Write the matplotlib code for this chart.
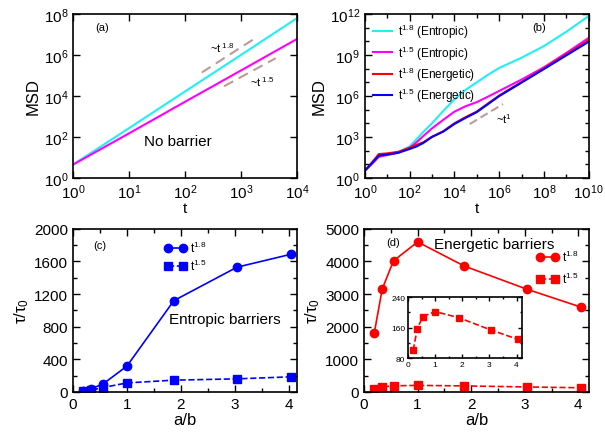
import numpy as np
import matplotlib
matplotlib.use("Agg")
import matplotlib.pyplot as plt
from matplotlib.ticker import LogLocator, MultipleLocator, FixedLocator, NullFormatter

plt.rcParams['font.family'] = ['Liberation Sans', 'DejaVu Sans']
plt.rcParams['mathtext.fontset'] = 'custom'
plt.rcParams['mathtext.rm'] = 'Liberation Sans'
plt.rcParams['mathtext.it'] = 'Liberation Sans:italic'
plt.rcParams['mathtext.default'] = 'regular'

# ---- panel (a): no barrier
t_a = [1, 10, 100, 1000, 10000]
msd_a_18 = [4.5, 270, 1.65e4, 1.0e6, 6.2e7]
msd_a_15 = [4.5, 150, 5.2e3, 1.75e5, 6.0e6]
guide_a18_t = [200, 1900]
guide_a18_y = [1.4e5, 7.3e6]
guide_a15_t = [500, 4200]
guide_a15_y = [3.0e4, 7.0e5]

# ---- panel (b): with barriers (log10 values)
logt_b = [0, 0.3, 0.625, 1.0, 1.5, 2.0, 2.3, 2.6, 3.0, 3.5, 4.0, 4.5, 5.0, 5.5, 6.0, 7.0, 8.0, 9.0, 10.0]
logy_cyan = [0.53, 1.05, 1.6, 1.72, 1.9, 2.3, 2.82, 3.35, 4.0, 4.9, 5.75, 6.45, 7.0, 7.55, 8.05, 8.8, 9.65, 10.7, 11.85]
logy_mag = [0.53, 1.0, 1.55, 1.68, 1.85, 2.2, 2.6, 3.05, 3.63, 4.25, 4.85, 5.25, 5.55, 5.95, 6.37, 7.2, 8.1, 9.15, 10.25]
logy_red = [0.55, 1.1, 1.75, 1.8, 1.92, 2.22, 2.42, 2.6, 3.02, 3.42, 4.0, 4.45, 4.86, 5.45, 6.03, 7.02, 8.02, 9.04, 10.08]
logy_blue = [0.53, 1.05, 1.63, 1.72, 1.85, 2.12, 2.3, 2.55, 3.0, 3.39, 3.95, 4.4, 4.82, 5.4, 5.99, 6.98, 7.97, 8.97, 9.97]
guide_b_t = [10**4.69, 10**6.17]
guide_b_y = [10**3.95, 10**5.41]

# ---- panels (c), (d)
ab = [0.19, 0.34, 0.55, 1.0, 1.87, 3.04, 4.05]
tau_c_18 = [12, 42, 95, 318, 1120, 1530, 1690]
tau_c_15 = [12, 22, 54, 111, 145, 161, 186]
tau_d_18 = [1797, 3160, 4020, 4600, 3860, 3150, 2600]
tau_d_15 = [100, 157, 189, 202, 186, 154, 129]

cyan = '#20F0F4'
mag = '#FF00FF'
red = '#FF0000'
blue = '#0000FF'
guide = '#C09A98'

fig = plt.figure(figsize=(6.05, 4.35), dpi=100)
axa = fig.add_axes([0.1207, 0.5885, 0.370, 0.377])
axb = fig.add_axes([0.603, 0.5885, 0.370, 0.377])
axc = fig.add_axes([0.1207, 0.0966, 0.370, 0.375])
axd = fig.add_axes([0.6017, 0.0966, 0.372, 0.375])
axi = fig.add_axes([0.6744, 0.1747, 0.1884, 0.140])

def style(ax, size=11):
    ax.tick_params(which='both', direction='in', top=True, right=True, labelsize=size)
    ax.tick_params(which='major', length=5, width=1)
    ax.tick_params(which='minor', length=3, width=1)
    for s in ax.spines.values():
        s.set_linewidth(1.2)

# (a)
axa.loglog(t_a, msd_a_18, color=cyan, lw=1.5)
axa.loglog(t_a, msd_a_15, color=mag, lw=1.5)
axa.plot(guide_a18_t, guide_a18_y, color=guide, lw=1.5, ls=(0, (5, 3)))
axa.plot(guide_a15_t, guide_a15_y, color=guide, lw=1.5, ls=(0, (5, 3)))
axa.set_xlim(1, 1e4)
axa.set_ylim(1, 1e8)
axa.xaxis.set_major_locator(LogLocator(base=10, numticks=10))
axa.yaxis.set_major_locator(FixedLocator([1, 1e2, 1e4, 1e6, 1e8]))
axa.xaxis.set_minor_locator(FixedLocator([]))
axa.yaxis.set_minor_locator(FixedLocator([]))
style(axa)
axa.set_xlabel('t', fontsize=11, labelpad=0)
axa.set_ylabel('MSD', fontsize=12, labelpad=2)
axa.text(0.1, 0.9, '(a)', transform=axa.transAxes, fontsize=8)
axa.text(0.61, 0.77, r'~t$^{\ 1.8}$', transform=axa.transAxes, fontsize=8)
axa.text(0.79, 0.56, r'~t$^{\ 1.5}$', transform=axa.transAxes, fontsize=8)
axa.text(0.47, 0.20, 'No barrier', transform=axa.transAxes, fontsize=11, ha='center')

# (b)
tb = 10**np.array(logt_b)
axb.loglog(tb, 10**np.array(logy_cyan), color=cyan, lw=1.5, label=r'$t^{1.8}$ (Entropic)')
axb.loglog(tb, 10**np.array(logy_mag), color=mag, lw=1.5, label=r'$t^{1.5}$ (Entropic)')
axb.loglog(tb, 10**np.array(logy_red), color=red, lw=1.5, label=r'$t^{1.8}$ (Energetic)')
axb.loglog(tb, 10**np.array(logy_blue), color=blue, lw=1.5, label=r'$t^{1.5}$ (Energetic)')
axb.plot(guide_b_t, guide_b_y, color=guide, lw=1.5, ls=(0, (4, 2)))
axb.set_xlim(1, 1e10)
axb.set_ylim(1, 1e12)
axb.xaxis.set_major_locator(FixedLocator([10**k for k in range(0, 11, 2)]))
axb.yaxis.set_major_locator(FixedLocator([10**k for k in range(0, 13, 3)]))
axb.xaxis.set_minor_locator(FixedLocator([10**k for k in range(1, 10, 2)]))
axb.yaxis.set_minor_locator(FixedLocator([10**k for k in range(0, 13) if k % 3]))
axb.xaxis.set_minor_formatter(NullFormatter())
axb.yaxis.set_minor_formatter(NullFormatter())
style(axb)
axb.set_xlabel('t', fontsize=11, labelpad=0)
axb.set_ylabel('MSD', fontsize=12, labelpad=2)
axb.text(0.75, 0.9, '(b)', transform=axb.transAxes, fontsize=8)
axb.text(10**5.85, 10**4.0, r'~t$^{1}$', fontsize=8)
axb.legend(loc='upper left', fontsize=8.5, frameon=False, handlelength=1.6,
           handletextpad=0.5, labelspacing=0.25, borderaxespad=0.3,
           bbox_to_anchor=(0.0, 1.0))

# (c)
axc.plot(ab, tau_c_18, '-o', color=blue, lw=1.2, ms=6, label=r'$t^{1.8}$')
axc.plot(ab, tau_c_15, '--s', color=blue, lw=1.2, ms=5.5, label=r'$t^{1.5}$')
axc.set_xlim(0, 4.15)
axc.set_ylim(0, 2000)
axc.xaxis.set_major_locator(MultipleLocator(1))
axc.xaxis.set_minor_locator(MultipleLocator(0.5))
axc.yaxis.set_major_locator(MultipleLocator(400))
axc.yaxis.set_minor_locator(MultipleLocator(200))
style(axc)
axc.set_xlabel('a/b', fontsize=12, labelpad=1)
axc.set_ylabel(r'$\tau/\tau_0$', fontsize=12, labelpad=2)
axc.text(0.09, 0.88, '(c)', transform=axc.transAxes, fontsize=8)
axc.text(0.68, 0.42, 'Entropic barriers', transform=axc.transAxes, fontsize=11, ha='center')
axc.legend(loc='upper left', bbox_to_anchor=(0.36, 1.0), fontsize=8.5, frameon=False,
           numpoints=2, handlelength=1.9, handletextpad=0.3, labelspacing=0.3)

# (d)
axd.plot(ab, tau_d_18, '-o', color=red, lw=1.2, ms=6, label=r'$t^{1.8}$')
axd.plot(ab, tau_d_15, '--s', color=red, lw=1.2, ms=5.5, label=r'$t^{1.5}$')
axd.set_xlim(0, 4.2)
axd.set_ylim(0, 5000)
axd.xaxis.set_major_locator(MultipleLocator(1))
axd.xaxis.set_minor_locator(MultipleLocator(0.5))
axd.yaxis.set_major_locator(MultipleLocator(1000))
axd.yaxis.set_minor_locator(MultipleLocator(500))
style(axd)
axd.set_xlabel('a/b', fontsize=12, labelpad=1)
axd.set_ylabel(r'$\tau/\tau_0$', fontsize=12, labelpad=2)
axd.text(0.1, 0.9, '(d)', transform=axd.transAxes, fontsize=8)
axd.text(0.58, 0.88, 'Energetic barriers', transform=axd.transAxes, fontsize=11, ha='center')
axd.legend(loc='upper right', bbox_to_anchor=(1.0, 0.94), fontsize=8.5, frameon=False,
           numpoints=2, handlelength=1.9, handletextpad=0.3, labelspacing=0.55)

# inset
axi.plot(ab, tau_d_15, '--s', color=red, lw=1.2, ms=4.5)
axi.set_xlim(0, 4.2)
axi.set_ylim(80, 240)
axi.xaxis.set_major_locator(MultipleLocator(1))
axi.xaxis.set_minor_locator(MultipleLocator(0.5))
axi.yaxis.set_major_locator(MultipleLocator(80))
axi.yaxis.set_minor_locator(MultipleLocator(40))
style(axi, size=6)
axi.tick_params(which='major', length=3, pad=2)
axi.tick_params(which='minor', length=1.5)

fig.savefig('out.png', dpi=100)
